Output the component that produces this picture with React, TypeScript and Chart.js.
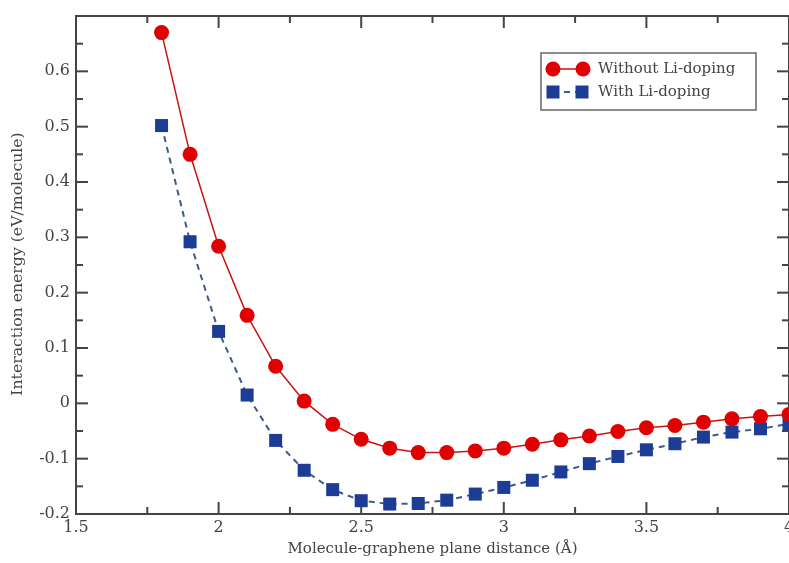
import React, { useEffect, useRef } from "react";
import { Chart, registerables } from "chart.js";

Chart.register(...registerables);

const distances = [1.8, 1.9, 2.0, 2.1, 2.2, 2.3, 2.4, 2.5, 2.6, 2.7, 2.8, 2.9, 3.0, 3.1, 3.2, 3.3, 3.4, 3.5, 3.6, 3.7, 3.8, 3.9, 4.0];
const withoutLi = [0.67, 0.45, 0.284, 0.159, 0.067, 0.004, -0.038, -0.065, -0.081, -0.089, -0.089, -0.086, -0.081, -0.074, -0.066, -0.059, -0.051, -0.044, -0.04, -0.034, -0.028, -0.024, -0.02];
const withLi = [0.502, 0.292, 0.13, 0.015, -0.067, -0.121, -0.156, -0.176, -0.182, -0.181, -0.175, -0.164, -0.152, -0.139, -0.124, -0.109, -0.096, -0.084, -0.073, -0.061, -0.052, -0.046, -0.037];
const xTicks = [1.5, 2, 2.5, 3, 3.5, 4];
const yTicks = [-0.2, -0.1, 0, 0.1, 0.2, 0.3, 0.4, 0.5, 0.6];
const seriesLabels = ["Without Li-doping", "With Li-doping"];
const xTitle = "Molecule-graphene plane distance (Å)";
const yTitle = "Interaction energy (eV/molecule)";

const RED = "#e00000";
const RED_LINE = "#c81414";
const BLUE = "#1c3c96";
const BLUE_LINE = "#3c5a8c";
const AXIS = "#444";
const TEXT = "#444";
const FONT = "DejaVu Serif";

const framePlugin = {
  id: "frame",
  beforeDatasetsDraw(chart: any) {
    const { ctx, chartArea, scales } = chart;
    const { left, right, top, bottom } = chartArea;
    const x = scales.x;
    const y = scales.y;
    ctx.save();
    ctx.strokeStyle = AXIS;
    ctx.lineWidth = 2;
    ctx.strokeRect(left, top, right - left, bottom - top);
    const line = (a: number, b: number, c: number, d: number) => {
      ctx.beginPath();
      ctx.moveTo(a, b);
      ctx.lineTo(c, d);
      ctx.stroke();
    };
    for (let i = 0; ; i++) {
      const v = x.min + i * 0.25;
      if (v > x.max + 1e-9) break;
      const px = x.getPixelForValue(v);
      const len = i % 2 === 0 ? 12 : 7;
      line(px, bottom, px, bottom - len);
      line(px, top, px, top + len);
    }
    for (let i = 0; ; i++) {
      const v = y.min + i * 0.05;
      if (v > y.max + 1e-9) break;
      const py = y.getPixelForValue(v);
      const len = i % 2 === 0 ? 12 : 7;
      line(left, py, left + len, py);
      line(right, py, right - len, py);
    }
    // axis titles
    ctx.fillStyle = TEXT;
    ctx.textAlign = "center";
    ctx.textBaseline = "middle";
    ctx.font = `15px "${FONT}"`;
    ctx.fillText(xTitle, (left + right) / 2, 549);
    ctx.save();
    ctx.font = `15.7px "${FONT}"`;
    ctx.translate(18, 264);
    ctx.rotate(-Math.PI / 2);
    ctx.fillText(yTitle, 0, 0);
    ctx.restore();
    ctx.restore();
  },
};

const legendPlugin = {
  id: "customLegend",
  afterDatasetsDraw(chart: any) {
    const { ctx } = chart;
    ctx.save();
    const bx = 541, by = 53, bw = 215, bh = 57;
    ctx.fillStyle = "#fff";
    ctx.fillRect(bx, by, bw, bh);
    ctx.strokeStyle = "#666";
    ctx.lineWidth = 1.5;
    ctx.strokeRect(bx, by, bw, bh);
    const rows = [by + 16, by + 39];
    // row 1
    ctx.strokeStyle = RED_LINE;
    ctx.lineWidth = 1.5;
    ctx.beginPath();
    ctx.moveTo(553, rows[0]);
    ctx.lineTo(583, rows[0]);
    ctx.stroke();
    ctx.fillStyle = RED;
    [553, 583].forEach((cx) => {
      ctx.beginPath();
      ctx.arc(cx, rows[0], 7.5, 0, Math.PI * 2);
      ctx.fill();
    });
    // row 2
    ctx.strokeStyle = BLUE_LINE;
    ctx.lineWidth = 2;
    ctx.setLineDash([6, 5]);
    ctx.beginPath();
    ctx.moveTo(553, rows[1]);
    ctx.lineTo(583, rows[1]);
    ctx.stroke();
    ctx.setLineDash([]);
    ctx.fillStyle = BLUE;
    [553, 582].forEach((cx) => {
      ctx.fillRect(cx - 6.5, rows[1] - 6.5, 13, 13);
    });
    ctx.fillStyle = TEXT;
    ctx.font = `15px "${FONT}"`;
    ctx.textAlign = "left";
    ctx.textBaseline = "middle";
    ctx.fillText(seriesLabels[0], 598, rows[0]);
    ctx.fillText(seriesLabels[1], 598, rows[1]);
    ctx.restore();
  },
};

export default function App() {
  const ref = useRef<HTMLCanvasElement | null>(null);

  useEffect(() => {
    if (!ref.current) return;
    const chart = new Chart(ref.current, {
      type: "scatter",
      data: {
        datasets: [
          {
            label: seriesLabels[0],
            data: distances.map((d, i) => ({ x: d, y: withoutLi[i] })),
            showLine: true,
            borderColor: RED_LINE,
            borderWidth: 1.5,
            backgroundColor: RED,
            pointBackgroundColor: RED,
            pointBorderColor: RED,
            pointBorderWidth: 0,
            pointRadius: 7.5,
            pointStyle: "circle",
            clip: false as any,
          },
          {
            label: seriesLabels[1],
            data: distances.map((d, i) => ({ x: d, y: withLi[i] })),
            showLine: true,
            borderColor: BLUE_LINE,
            borderWidth: 2,
            borderDash: [6, 5],
            backgroundColor: BLUE,
            pointBackgroundColor: BLUE,
            pointBorderColor: BLUE,
            pointBorderWidth: 0,
            pointRadius: 9.2,
            pointStyle: "rect",
            clip: false as any,
          },
        ],
      },
      options: {
        responsive: false,
        animation: false,
        layout: { padding: { top: 16, right: 31, left: 0, bottom: 0 } },
        plugins: {
          legend: { display: false },
          tooltip: { enabled: false },
        },
        scales: {
          x: {
            type: "linear",
            min: 1.5,
            max: 4,
            grid: { display: false, drawTicks: false },
            border: { display: false },
            afterBuildTicks: (scale: any) => {
              scale.ticks = xTicks.map((v) => ({ value: v }));
            },
            afterFit: (scale: any) => {
              scale.height = 49;
            },
            ticks: {
              autoSkip: false,
              maxRotation: 0,
              padding: 4,
              color: TEXT,
              font: { family: FONT, size: 16 },
              callback: (v: any) => String(v),
            },
          },
          y: {
            type: "linear",
            min: -0.2,
            max: 0.7,
            grid: { display: false, drawTicks: false },
            border: { display: false },
            afterBuildTicks: (scale: any) => {
              scale.ticks = yTicks.map((v) => ({ value: v }));
            },
            afterFit: (scale: any) => {
              scale.width = 76;
            },
            ticks: {
              autoSkip: false,
              padding: 6,
              color: TEXT,
              font: { family: FONT, size: 16 },
              callback: (v: any) => String(v),
            },
          },
        },
      },
      plugins: [framePlugin, legendPlugin],
    } as any);
    return () => chart.destroy();
  }, []);

  return (
    <div
      style={{
        position: "fixed",
        left: 0,
        top: 0,
        width: 789,
        height: 563,
        overflow: "hidden",
        background: "#fff",
      }}
    >
      <canvas ref={ref} width={820} height={563} style={{ width: 820, height: 563, display: "block" }} />
    </div>
  );
}
